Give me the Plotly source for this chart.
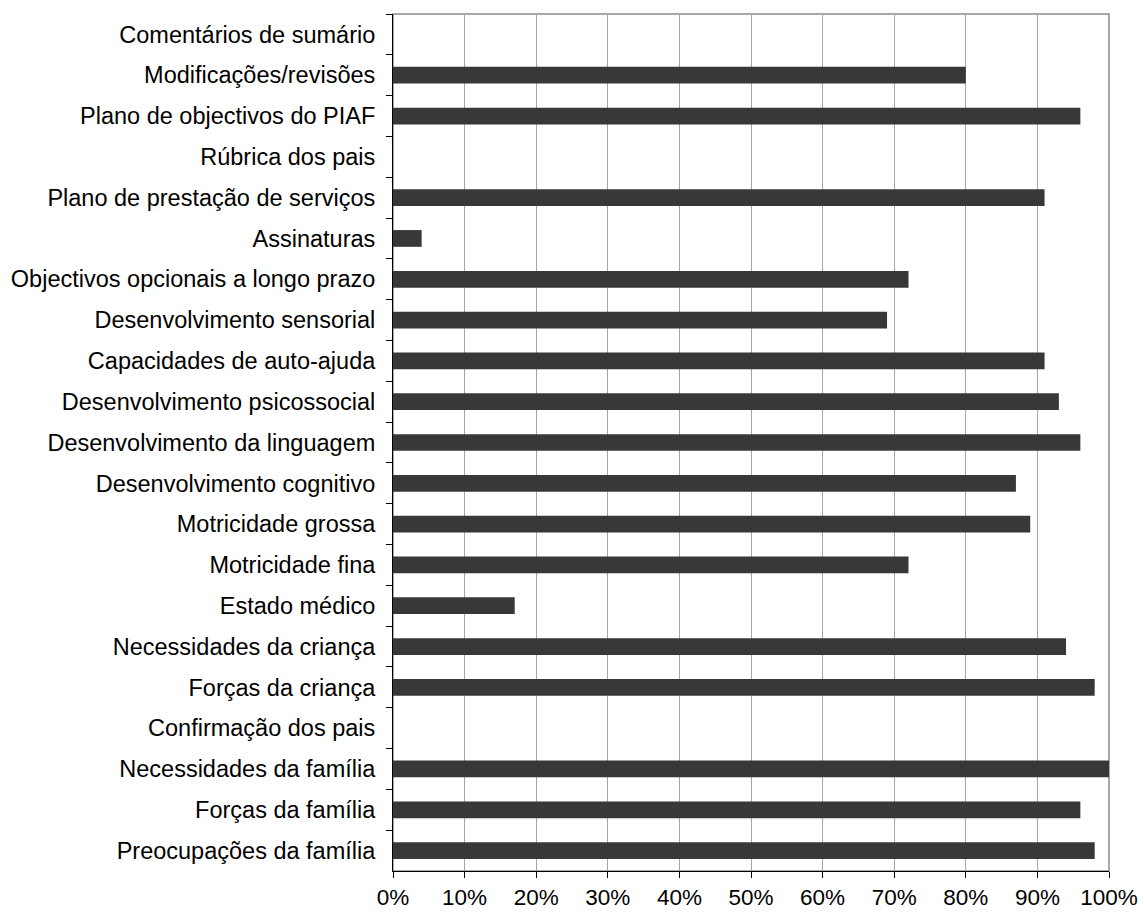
import plotly.graph_objects as go

categories = [
    "Comentários de sumário",
    "Modificações/revisões",
    "Plano de objectivos do PIAF",
    "Rúbrica dos pais",
    "Plano de prestação de serviços",
    "Assinaturas",
    "Objectivos opcionais a longo prazo",
    "Desenvolvimento sensorial",
    "Capacidades de auto-ajuda",
    "Desenvolvimento psicossocial",
    "Desenvolvimento da linguagem",
    "Desenvolvimento cognitivo",
    "Motricidade grossa",
    "Motricidade fina",
    "Estado médico",
    "Necessidades da criança",
    "Forças da criança",
    "Confirmação dos pais",
    "Necessidades da família",
    "Forças da família",
    "Preocupações da família",
]
values = [0, 80, 96, 0, 91, 4, 72, 69, 91, 93, 96, 87, 89, 72, 17, 94, 98, 0, 100, 96, 98]
tick_vals = [0, 10, 20, 30, 40, 50, 60, 70, 80, 90, 100]
tick_text = ["0%", "10%", "20%", "30%", "40%", "50%", "60%", "70%", "80%", "90%", "100%"]

fig = go.Figure(go.Bar(
    x=values, y=categories, orientation="h",
    marker=dict(color="#383838", line=dict(width=0)),
))

font = dict(family="Liberation Sans, Arial, sans-serif", size=22, color="#000000")

fig.update_layout(
    width=1144, height=914,
    margin=dict(l=393, r=35, t=14, b=43),
    paper_bgcolor="white", plot_bgcolor="white",
    bargap=0.59,
    showlegend=False,
    font=font,
    shapes=[dict(type="rect", xref="paper", yref="paper", x0=0, x1=1, y0=0, y1=1,
                 line=dict(color="#8c8c8c", width=1.5), layer="below")],
)
fig.update_xaxes(
    range=[0, 100], tickvals=tick_vals, ticktext=tick_text,
    showgrid=True, gridcolor="#a6a6a6", gridwidth=1,
    showline=True, linecolor="#000000", linewidth=1,
    ticks="outside", ticklen=6, tickcolor="#000000",
    tickfont=dict(size=22.5), zeroline=False, fixedrange=True,
    ticklabeloverflow="allow", automargin=False,
)
fig.update_yaxes(
    autorange="reversed", type="category",
    showgrid=False, showline=True, linecolor="#000000", linewidth=1,
    ticks="outside", ticklen=6, tickcolor="#000000", tickson="boundaries",
    tickfont=dict(size=23.5), ticklabelstandoff=12, automargin=False,
)

fig.write_html(
    "out.html",
    config={"displayModeBar": False, "staticPlot": True},
    post_script="document.body.style.margin='0';document.body.style.overflow='hidden';",
)
